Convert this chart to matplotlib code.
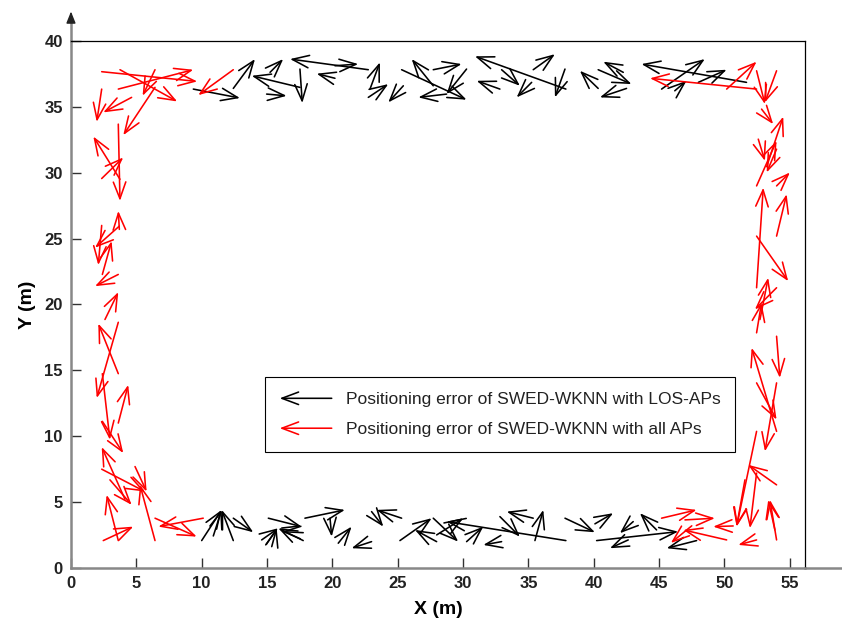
import matplotlib
matplotlib.use("Agg")
import matplotlib.pyplot as plt
from matplotlib.patches import FancyArrowPatch
from matplotlib.lines import Line2D
from matplotlib.legend_handler import HandlerBase

plt.rcParams['font.family'] = ['Liberation Sans', 'DejaVu Sans']

# ---- data: tail (x0, y0) -> head (x1, y1) in metres ----
black_x0 = [9.36, 12.42, 17.52, 17.52, 15.23, 22.75, 14.97, 20.20, 20.20, 22.88, 22.75, 25.43, 25.30, 27.72, 28.74,
            27.72, 30.27, 37.87, 32.82, 32.95, 35.37, 35.25, 37.80, 40.34, 40.34, 42.26, 42.51, 51.69, 45.19, 48.00, 46.20,
            10.00, 12.42, 10.89, 12.42, 15.10, 17.77, 14.59, 15.36, 17.77, 17.90, 19.82, 20.45, 23.00, 25.30, 23.00,
            25.17, 27.72, 27.98, 27.98, 37.87, 30.27, 32.95, 35.37, 32.82, 35.50, 37.80, 40.22, 40.09, 43.02, 42.64,
            44.81, 47.87]
black_y0 = [36.35, 36.40, 36.48, 37.87, 37.62, 37.82, 35.97, 37.17, 38.12, 36.35, 35.72, 36.60, 37.82, 36.60, 35.97,
            37.82, 37.87, 36.35, 36.35, 37.82, 37.82, 36.86, 37.87, 36.40, 37.82, 37.62, 36.40, 36.86, 36.35, 36.86, 36.22,
            2.08, 2.08, 2.43, 3.78, 3.78, 2.08, 2.13, 1.62, 2.68, 3.78, 3.78, 1.88, 2.00, 3.78, 4.28,
            2.08, 3.78, 2.00, 2.51, 2.08, 2.00, 2.00, 3.78, 3.90, 2.08, 3.78, 2.08, 3.35, 3.52, 2.13,
            2.89, 2.08]
black_x1 = [12.93, 14.08, 13.83, 17.70, 16.24, 16.76, 16.50, 18.80, 21.98, 23.64, 24.28, 24.28, 30.27, 26.07, 26.58,
            29.89, 28.74, 30.91, 31.04, 34.35, 37.03, 34.10, 37.03, 38.94, 42.89, 40.73, 40.47, 43.65, 48.50, 50.17, 47.10,
            11.53, 11.53, 11.53, 13.95, 17.65, 15.86, 15.86, 15.74, 16.12, 20.96, 19.95, 21.47, 21.47, 23.39, 23.90,
            27.60, 29.63, 26.32, 30.02, 28.74, 31.55, 31.55, 33.34, 34.35, 36.14, 40.09, 46.46, 41.49, 42.00, 41.24,
            43.53, 45.58]
black_y1 = [35.67, 38.63, 37.36, 35.29, 38.63, 38.63, 35.84, 37.52, 38.25, 38.38, 36.73, 35.34, 35.54, 38.63, 35.72,
            38.25, 35.97, 38.84, 36.98, 36.60, 39.00, 35.72, 35.72, 37.74, 36.73, 38.43, 35.72, 38.25, 38.63, 37.82, 36.98,
            4.41, 4.41, 4.41, 2.71, 3.14, 3.02, 3.02, 3.02, 2.76, 4.41, 2.38, 3.14, 1.50, 4.41, 3.14,
            3.78, 2.00, 2.89, 3.78, 3.52, 3.14, 1.75, 4.28, 2.38, 4.41, 2.71, 2.76, 4.16, 2.64, 1.50,
            4.16, 1.50]

red_x0 = [2.35, 3.75, 3.62, 2.35, 4.64, 6.43, 12.42, 3.62, 3.75, 2.35, 6.43,
          3.70, 3.70, 2.35, 2.40, 3.62, 2.60, 3.62, 3.62, 3.62, 2.40, 2.40, 4.13, 2.35, 4.90,
          6.43, 2.47, 3.62, 2.98, 10.12, 6.43,
          45.19, 46.98, 50.17, 50.67, 51.57, 52.46, 53.99, 53.86, 47.50,
          52.46, 50.17, 52.46, 53.99, 52.84, 53.23, 52.59, 52.46, 53.99, 53.99, 53.99, 52.46, 52.46,
          52.72, 53.99, 52.46, 53.99, 53.99, 52.46, 53.99, 52.46, 53.99, 52.46]
red_y0 = [37.67, 37.82, 36.35, 36.35, 35.72, 36.48, 37.82, 33.69, 29.50, 29.56, 37.82,
          25.70, 25.95, 26.00, 22.28, 22.28, 18.86, 14.75, 18.65, 11.00, 14.75, 11.13, 5.22, 7.50, 7.70,
          2.08, 2.08, 2.08, 6.69, 3.78, 3.78,
          3.78, 3.65, 2.13, 3.19, 6.69, 2.13, 2.13, 2.89, 3.20,
          36.35, 36.35, 37.74, 37.74, 34.83, 30.46, 32.55, 29.00, 31.79, 29.00, 25.19, 21.27, 25.19,
          18.86, 21.27, 17.85, 17.59, 10.37, 14.05, 14.05, 10.37, 6.31, 7.20]
red_x1 = [9.66, 8.13, 9.36, 1.97, 2.47, 4.00, 9.74, 3.75, 1.71, 4.00, 5.48,
          3.62, 1.84, 2.09, 3.11, 1.84, 3.62, 2.09, 1.97, 4.38, 2.98, 4.00, 2.35, 5.66, 5.79,
          5.28, 4.77, 2.73, 4.64, 6.68, 9.62,
          47.87, 49.27, 46.85, 49.14, 50.93, 51.06, 53.48, 53.35, 45.90,
          44.30, 52.46, 53.10, 53.10, 53.73, 54.50, 53.10, 53.99, 53.23, 55.01, 54.76, 52.97, 54.88,
          53.35, 52.33, 52.84, 54.24, 52.08, 53.99, 53.10, 50.93, 51.82, 51.95]
red_y1 = [36.93, 35.41, 37.82, 33.86, 34.58, 32.85, 35.89, 27.86, 32.75, 31.16, 35.84,
          27.10, 24.31, 22.99, 24.81, 21.39, 20.94, 18.55, 12.90, 13.90, 9.73, 8.72, 9.18, 5.80, 5.80,
          6.31, 3.14, 5.55, 4.79, 3.14, 2.38,
          4.41, 3.78, 2.89, 3.14, 3.14, 1.75, 5.17, 5.17, 1.90,
          37.17, 38.43, 35.21, 35.34, 33.69, 34.26, 30.90, 32.42, 30.02, 30.02, 28.37, 28.87, 21.77,
          22.03, 19.62, 20.13, 14.43, 16.71, 11.26, 8.85, 3.14, 7.83, 3.02]

x_ticks = [0, 5, 10, 15, 20, 25, 30, 35, 40, 45, 50, 55]
y_ticks = [0, 5, 10, 15, 20, 25, 30, 35, 40]
legend_labels = ['Positioning error of SWED-WKNN with LOS-APs',
                 'Positioning error of SWED-WKNN with all APs']
series_colors = ['black', 'red']

ARROW = '->,head_length=1.2,head_width=0.45'

fig = plt.figure(figsize=(8.42, 6.23), dpi=100)
ax = fig.add_axes([0.0843, 0.0883, 0.8723, 0.8459])
ax.set_xlim(0, 56.2)
ax.set_ylim(0, 40)


def draw(xs0, ys0, xs1, ys1, color):
    for a, b, c, d in zip(xs0, ys0, xs1, ys1):
        ax.add_patch(FancyArrowPatch((a, b), (c, d), arrowstyle=ARROW, mutation_scale=10,
                                     color=color, lw=1.15, shrinkA=0, shrinkB=0))


draw(black_x0, black_y0, black_x1, black_y1, series_colors[0])
draw(red_x0, red_y0, red_x1, red_y1, series_colors[1])

# axes styling
for s in ['top', 'right']:
    ax.spines[s].set_color('black')
    ax.spines[s].set_linewidth(0.9)
for s in ['left', 'bottom']:
    ax.spines[s].set_color('#888888')
    ax.spines[s].set_linewidth(1.8)

ax.plot([0, 0], [1.0, 1.04], transform=ax.transAxes, color='#888888', lw=1.8, clip_on=False)
ax.annotate('', xy=(0, 1.056), xytext=(0, 1.035), xycoords='axes fraction',
            arrowprops=dict(arrowstyle='-|>,head_length=0.7,head_width=0.28', color='#222222',
                            lw=1.0, shrinkA=0, shrinkB=0), annotation_clip=False)
ax.plot([1.0, 1.06], [0, 0], transform=ax.transAxes, color='#888888', lw=1.8, clip_on=False)

ax.set_xticks(x_ticks)
ax.set_yticks(y_ticks)
ax.tick_params(direction='in', length=7, width=1, color='#333333', labelsize=12, pad=6)
for lab in ax.get_xticklabels() + ax.get_yticklabels():
    lab.set_fontweight('bold')
    lab.set_color('#222222')

ax.set_xlabel('X (m)', fontsize=14, fontweight='bold', labelpad=7)
ax.set_ylabel('Y (m)', fontsize=14, fontweight='bold', labelpad=6)


class HandlerArrow(HandlerBase):
    def create_artists(self, legend, orig_handle, xdescent, ydescent, width, height, fontsize, trans):
        y = height / 2 - ydescent
        p = FancyArrowPatch((width - xdescent, y), (-xdescent, y), arrowstyle=ARROW,
                            mutation_scale=10, color=orig_handle.get_color(), lw=1.15,
                            shrinkA=0, shrinkB=0, transform=trans)
        return [p]


handles = [Line2D([], [], color=c) for c in series_colors]
leg = ax.legend(handles, legend_labels, handler_map={Line2D: HandlerArrow()},
                loc='lower left', bbox_to_anchor=(0.264, 0.220), fontsize=12.5,
                frameon=True, fancybox=False, edgecolor='black', framealpha=1,
                handlelength=3.0, handletextpad=0.8, labelspacing=0.85, borderpad=0.85,
                borderaxespad=0)
leg.get_frame().set_linewidth(0.8)
for t in leg.get_texts():
    t.set_color('#222222')

fig.savefig('out.png', dpi=100)
